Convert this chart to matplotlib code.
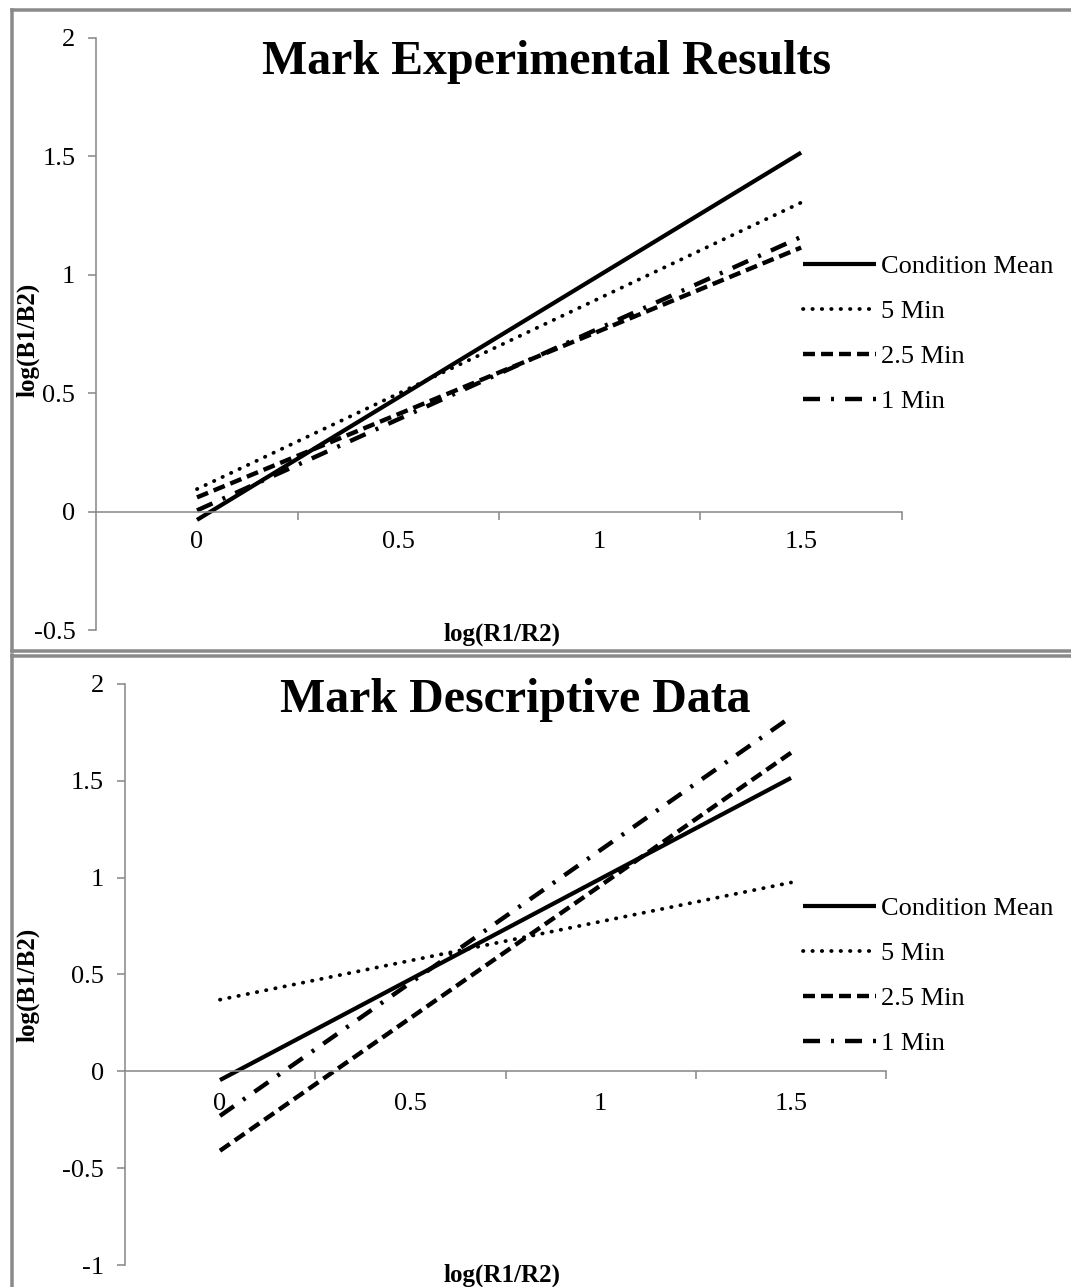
import matplotlib
matplotlib.use("Agg")
import matplotlib.pyplot as plt
from matplotlib.lines import Line2D
import numpy as np

plt.rcParams['font.family'] = ['Liberation Serif', 'DejaVu Serif']
plt.rcParams['lines.scale_dashes'] = False

# ---------------- data ----------------
series_names = ["Condition Mean", "5 Min", "2.5 Min", "1 Min"]
x_vals = [0.0, 1.5]

# Top panel: Mark Experimental Results (start, end values)
top_condition_mean = [-0.035, 1.516]
top_5min = [0.095, 1.305]
top_2_5min = [0.06, 1.115]
top_1min = [0.005, 1.16]

# Bottom panel: Mark Descriptive Data
bot_condition_mean = [-0.045, 1.515]
bot_5min = [0.37, 0.975]
bot_2_5min = [-0.41, 1.645]
bot_1min = [-0.23, 1.83]

top_title = "Mark Experimental Results"
bot_title = "Mark Descriptive Data"
xlabel = "log(R1/R2)"
ylabel = "log(B1/B2)"
x_tick_vals = [0, 0.5, 1, 1.5]
x_tick_labels = ["0", "0.5", "1", "1.5"]
x_minor_ticks = [0.25, 0.75, 1.25, 1.75]
top_y_ticks = [-0.5, 0, 0.5, 1, 1.5, 2]
top_y_labels = ["-0.5", "0", "0.5", "1", "1.5", "2"]
bot_y_ticks = [-1, -0.5, 0, 0.5, 1, 1.5, 2]
bot_y_labels = ["-1", "-0.5", "0", "0.5", "1", "1.5", "2"]

# ---------------- layout ----------------
W, H = 1071, 1287
DPI = 100
fig = plt.figure(figsize=(W / DPI, H / DPI), dpi=DPI)
PX = 0.72  # points per pixel

def rect(left, top, right, bottom):
    return [left / W, 1 - bottom / H, (right - left) / W, (bottom - top) / H]

GRAY = "#8a8a8a"

styles = [
    dict(linestyle="-", linewidth=4.2 * PX, solid_capstyle="butt"),
    dict(linestyle=(0, (0.4 * PX, 9.0 * PX)), linewidth=3.8 * PX, dash_capstyle="round"),
    dict(linestyle=(0, (12 * PX, 6 * PX)), linewidth=4.4 * PX, dash_capstyle="butt"),
    dict(linestyle=(0, (17 * PX, 11 * PX, 3 * PX, 11 * PX)), linewidth=4.4 * PX, dash_capstyle="butt"),
]

TICKFS = 19
LEGFS = 19

def make_panel(axrect, ylim, yticks, ylabels, series, xlabpad, leg_left, leg_top, titlepos, title,
               xlabpos, ylabpos):
    ax = fig.add_axes(rect(*axrect))
    ax.set_xlim(-0.25, 1.75)
    ax.set_ylim(*ylim)
    ax.set_axisbelow(True)
    for vals, name, st in zip(series, series_names, styles):
        ax.plot(x_vals, vals, color="black", label=name, clip_on=False, **st)
    for s in ["top", "right"]:
        ax.spines[s].set_visible(False)
    ax.spines["bottom"].set_position(("data", 0))
    for s in ["left", "bottom"]:
        ax.spines[s].set_color(GRAY)
        ax.spines[s].set_linewidth(1.6 * PX)
    ax.set_yticks(yticks)
    ax.set_yticklabels(ylabels)
    ax.tick_params(axis="y", direction="out", length=8 * PX, width=1.6 * PX, color=GRAY,
                   pad=13 * PX, labelsize=TICKFS)
    ax.set_xticks(x_tick_vals)
    ax.set_xticklabels(x_tick_labels)
    ax.set_xticks(x_minor_ticks, minor=True)
    ax.tick_params(axis="x", which="major", length=0, pad=xlabpad * PX, labelsize=TICKFS)
    ax.tick_params(axis="x", which="minor", direction="out", length=8 * PX, width=1.6 * PX,
                   color=GRAY)
    fs_px = LEGFS / PX
    ax.legend(loc="upper left", bbox_to_anchor=(leg_left / W, 1 - leg_top / H),
              bbox_transform=fig.transFigure, frameon=False, fontsize=LEGFS,
              handlelength=73 / fs_px, handletextpad=5 / fs_px,
              labelspacing=0.81, borderpad=0, borderaxespad=0)
    fig.text(titlepos[0] / W, 1 - titlepos[1] / H, title, ha="center", va="center",
             fontsize=34.5, fontweight="bold")
    fig.text(xlabpos[0] / W, 1 - xlabpos[1] / H, xlabel, ha="center", va="center",
             fontsize=18, fontweight="bold")
    fig.text(ylabpos[0] / W, 1 - ylabpos[1] / H, ylabel, ha="center", va="center",
             fontsize=18, fontweight="bold", rotation=90)
    return ax

make_panel((96.3, 38, 901.8, 630), (-0.5, 2), top_y_ticks, top_y_labels,
           [top_condition_mean, top_5min, top_2_5min, top_1min], 19,
           803, 255, (546, 62), top_title, (502, 634), (28, 340))

make_panel((124.8, 684, 886.2, 1265), (-1, 2), bot_y_ticks, bot_y_labels,
           [bot_condition_mean, bot_5min, bot_2_5min, bot_1min], 22,
           803, 897, (515, 700), bot_title, (502, 1275), (28, 985))

# panel borders
def fline(x0, y0, x1, y1, lw=3.5):
    fig.add_artist(Line2D([x0 / W, x1 / W], [1 - y0 / H, 1 - y1 / H],
                          transform=fig.transFigure, color=GRAY, linewidth=lw * PX))

fline(12, 10, W, 10)
fline(12, 10, 12, 651)
fline(12, 650.5, W, 650.5)
fline(12, 655.5, W, 655.5)
fline(12, 655, 12, H)

fig.savefig("out.png", dpi=DPI)
